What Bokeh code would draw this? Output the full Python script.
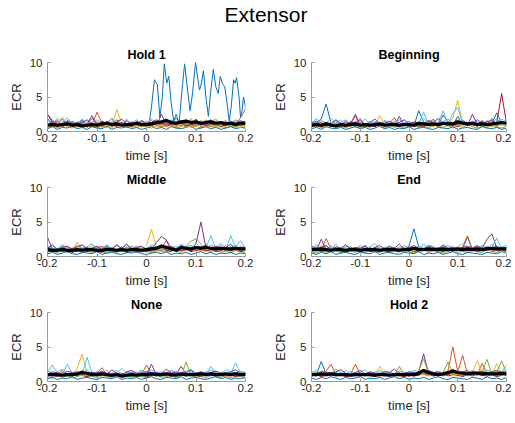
from bokeh.plotting import figure
from bokeh.layouts import column, row
from bokeh.models import FixedTicker
from bokeh.embed import file_html
from bokeh.resources import INLINE

# ---------------- data ----------------
SUPTITLE = "Extensor"
PANEL_TITLES = ["Hold 1", "Beginning", "Middle", "End", "None", "Hold 2"]
X_LABEL = "time [s]"
Y_LABEL = "ECR"
X_TICKS = [-0.2, -0.1, 0, 0.1, 0.2]
X_TICK_LABELS = ["-0.2", "-0.1", "0", "0.1", "0.2"]
Y_TICKS = [0, 5, 10]
Y_TICK_LABELS = ["0", "5", "10"]

TIME = [-0.20, -0.19, -0.18, -0.17, -0.16, -0.15, -0.14, -0.13, -0.12, -0.11,
        -0.10, -0.09, -0.08, -0.07, -0.06, -0.05, -0.04, -0.03, -0.02, -0.01,
        0.00, 0.01, 0.02, 0.03, 0.04, 0.05, 0.06, 0.07, 0.08, 0.09,
        0.10, 0.11, 0.12, 0.13, 0.14, 0.15, 0.16, 0.17, 0.18, 0.19, 0.20]

# Hold 1: the large blue trial (key points)
hold1_blue_t = [-0.20, -0.19, -0.18, -0.17, -0.16, -0.15, -0.14, -0.13, -0.12, -0.11,
                -0.10, -0.09, -0.08, -0.07, -0.06, -0.05, -0.04, -0.03, -0.02, -0.01,
                0.000, 0.005, 0.010, 0.016, 0.022, 0.027, 0.032, 0.036, 0.041, 0.045,
                0.050, 0.055, 0.060, 0.066, 0.071, 0.077, 0.083, 0.088, 0.093, 0.099,
                0.103, 0.107, 0.111, 0.115, 0.120, 0.125, 0.130, 0.135, 0.140, 0.145,
                0.149, 0.153, 0.158, 0.163, 0.167, 0.171, 0.176, 0.179, 0.182, 0.187,
                0.190, 0.193, 0.196, 0.200]
hold1_blue_v = [2.4, 1.6, 1.2, 1.8, 1.0, 1.4, 0.9, 1.6, 1.1, 1.9,
                1.2, 0.8, 1.5, 1.0, 1.7, 1.1, 0.9, 1.4, 1.0, 1.6,
                1.2, 1.0, 3.5, 7.5, 6.8, 2.0, 5.0, 9.8, 7.0, 8.0,
                4.0, 1.5, 2.5, 1.2, 5.5, 9.8, 6.0, 3.0, 5.5, 10.0,
                8.0, 6.0, 7.0, 8.8, 5.0, 2.2, 6.0, 9.0, 6.5, 5.5,
                8.0, 7.0, 6.5, 4.0, 1.5, 3.5, 7.5, 7.0, 7.8, 5.0,
                2.0, 3.0, 5.0, 3.5]
hold1_orange = [1.2,0.8,1.5,0.9,1.3,0.7,1.1,1.6,0.8,1.0, 2.8,1.2,0.7,1.4,0.9,1.1,0.6,1.3,1.0,0.8, 1.5,0.9,1.2,0.7,1.4,1.0,0.8,1.6,1.1,0.9, 1.3,0.7,1.0,1.5,0.8,1.2,0.9,1.4,1.1,2.0,3.3]
hold1_yellow = [0.7,1.4,1.0,2.1,0.8,1.2,0.6,1.0,1.5,0.9, 0.7,1.3,1.0,0.8,3.2,1.1,0.7,1.2,0.9,1.4, 0.8,1.0,1.6,0.9,0.7,1.2,1.5,0.8,1.0,1.9, 0.7,1.1,1.3,0.8,1.6,1.0,0.7,1.2,0.9,1.3,0.8]
hold1_purple = [1.9,1.0,0.6,1.2,1.5,0.8,1.3,0.9,1.1,2.3, 0.8,1.0,1.4,0.7,1.1,0.9,1.6,0.8,1.2,1.0, 0.9,1.3,0.8,2.5,1.1,0.9,1.4,1.0,0.7,1.2, 1.8,0.9,1.1,0.8,1.3,1.0,1.6,0.8,1.1,0.9,1.2]
hold1_green = [0.5,0.9,0.6,1.1,0.7,0.5,0.9,0.6,1.2,0.7, 0.5,0.8,0.6,1.0,0.7,1.3,0.5,0.8,0.6,0.9, 0.7,0.5,0.9,0.6,1.1,0.8,0.5,0.7,1.0,0.6, 0.8,0.5,0.9,0.7,0.6,1.0,0.5,0.8,0.6,0.9,0.7]
hold1_cyan = [1.0,1.7,0.9,1.3,2.0,1.1,0.8,1.4,1.0,1.2, 0.9,1.5,1.1,0.8,1.3,1.0,1.8,0.9,1.2,0.8, 1.4,1.1,0.9,1.2,0.8,1.7,1.0,1.3,0.9,1.1, 1.5,1.0,0.8,1.2,1.4,0.9,1.1,0.8,1.3,1.0,1.4]
hold1_red = [2.5,1.3,0.8,1.0,1.2,0.7,1.4,0.9,1.0,0.8, 1.1,0.7,1.2,0.9,0.8,1.3,1.0,0.7,1.5,0.9, 1.0,0.8,1.2,1.0,0.7,1.1,0.9,1.3,0.8,1.0, 0.9,1.4,0.8,1.0,1.2,0.7,1.0,1.3,0.9,1.1,1.0]
hold1_blue2 = [0.4,0.7,0.3,0.6,0.5,0.8,0.4,0.6,0.3,0.7, 0.5,0.4,0.8,0.3,0.6,0.5,0.7,0.4,0.6,0.3, 0.5,0.8,0.4,0.6,0.3,0.7,0.5,0.4,0.6,0.8, 0.3,0.5,0.7,0.4,0.6,0.3,0.5,0.7,0.4,0.6,0.5]
hold1_orange2 = [0.8,1.1,1.6,0.7,1.0,1.3,0.8,1.2,0.6,1.0, 1.4,0.8,1.1,1.9,0.7,1.0,1.2,0.8,1.1,0.7, 1.2,1.6,0.9,1.1,0.8,1.3,0.7,1.0,1.2,0.8, 1.1,0.9,1.7,1.0,0.8,1.2,0.9,1.0,1.5,0.8,1.1]
hold1_yellow2 = [0.6,0.9,0.5,0.8,1.1,0.6,0.9,0.5,0.8,0.7, 1.0,0.6,0.9,0.5,1.2,0.7,0.9,0.6,0.8,1.0, 0.6,0.8,0.5,1.0,0.7,0.6,0.9,1.1,0.6,0.8, 0.7,1.0,0.6,0.9,0.7,0.5,0.8,1.0,0.7,0.6,0.9]
hold1_cyan2 = [1.6,1.1,1.9,1.3,0.9,1.5,1.2,1.8,1.0,1.4, 1.7,1.1,1.3,1.9,1.2,1.0,1.5,1.3,1.7,1.1, 1.3,1.8,1.2,1.5,1.9,1.1,1.4,1.2,1.7,1.3, 1.0,1.6,1.2,1.4,1.8,1.1,1.5,1.2,1.7,1.3,1.5]
hold1_purple2 = [0.9,1.4,1.1,0.8,1.6,1.2,1.0,1.3,1.7,1.1, 0.9,1.5,1.2,1.0,1.4,1.8,1.1,1.3,0.9,1.5, 1.1,1.3,1.7,1.2,1.0,1.4,1.9,1.1,1.3,1.5, 1.2,1.0,1.4,1.7,1.1,1.3,0.9,1.5,1.2,1.6,1.1]
hold1_mean = [0.9,1.0,0.9,1.0,1.1,0.9,1.0,0.8,0.9,1.0, 0.9,1.1,1.2,1.0,1.1,0.9,1.0,1.0,1.2,1.0, 1.0,1.1,1.3,1.4,1.6,1.3,1.2,1.4,1.5,1.3, 1.4,1.2,1.3,1.4,1.2,1.3,1.1,1.2,1.0,1.2,1.2]

begin_blue = [1.0,1.3,1.8,4.0,1.2,0.8,1.1,0.9,1.4,0.7, 1.0,1.2,0.8,1.1,0.9,1.5,0.8,1.0,1.3,0.9, 1.1,0.8,3.0,1.4,0.9,1.2,1.0,2.4,1.3,0.9, 2.2,1.1,0.8,1.3,1.0,1.5,0.9,1.2,2.7,1.3,1.0]
begin_orange = [1.5,0.9,1.2,0.7,1.1,1.6,0.8,1.0,1.3,2.2, 0.9,1.1,0.7,1.4,1.0,0.8,1.2,2.0,0.9,1.1, 0.7,1.3,1.0,0.8,1.5,1.1,0.9,1.2,0.8,1.0, 1.7,1.2,0.9,1.1,0.8,1.3,1.0,1.9,0.9,1.1,1.4]
begin_yellow = [0.8,1.2,0.7,1.0,1.4,0.9,0.6,1.1,0.8,1.3, 1.0,0.7,1.2,0.9,2.3,1.0,0.8,1.1,0.7,1.2, 0.9,1.1,0.8,1.3,1.0,0.7,1.2,0.9,1.1,2.0, 4.5,1.3,0.9,1.1,0.8,1.2,1.0,0.7,1.1,0.9,1.0]
begin_purple = [1.2,0.8,1.0,1.3,0.7,1.1,0.9,1.5,1.0,2.5, 0.8,1.2,1.0,0.7,1.3,0.9,1.1,0.8,2.2,1.0, 0.9,1.2,0.7,1.1,1.4,0.9,1.0,1.2,0.8,1.1, 1.0,1.4,0.9,2.5,1.1,0.8,1.2,1.0,0.9,1.3,1.1]
begin_green = [0.6,0.9,0.5,0.8,1.0,0.6,0.8,0.5,0.9,0.7, 0.5,0.8,0.6,1.1,0.7,0.5,0.9,0.6,0.8,0.5, 0.7,0.9,0.6,0.8,0.5,1.0,0.7,0.6,0.9,0.5, 0.8,0.6,1.0,0.7,0.5,0.8,0.6,0.9,0.7,0.5,0.8]
begin_cyan = [1.1,1.9,1.0,1.3,0.8,1.2,1.7,0.9,1.1,1.3, 0.8,1.0,1.5,0.9,1.2,1.0,0.8,1.3,1.1,0.9, 1.4,1.0,1.2,2.8,1.0,0.9,1.3,3.0,1.1,2.6, 3.5,1.2,0.9,1.1,1.4,1.0,0.8,1.2,1.9,1.0,1.3]
begin_red = [0.9,1.1,0.7,1.0,0.8,1.2,0.9,0.7,1.1,0.8, 1.3,0.9,1.0,0.7,1.1,0.8,1.2,0.9,0.7,1.0, 0.8,1.1,0.9,0.7,1.2,1.0,0.8,1.1,0.9,1.0, 0.7,1.2,0.9,1.0,0.8,1.1,0.9,1.0,1.3,5.5,1.2]
begin_blue2 = [0.4,0.6,0.3,0.7,0.5,0.4,0.6,0.3,0.5,0.7, 0.4,0.6,0.3,0.5,0.8,0.4,0.6,0.3,0.5,0.4, 0.7,0.3,0.5,0.6,0.4,0.3,0.6,0.5,0.4,0.7, 0.3,0.5,0.6,0.4,0.3,0.7,0.5,0.4,0.6,0.3,0.5]
begin_orange2 = [0.7,1.0,1.4,0.8,1.2,0.6,1.0,1.3,0.7,1.1, 1.9,0.8,1.0,1.3,0.7,1.1,0.9,1.5,0.8,1.0, 1.2,0.7,1.1,0.9,1.3,1.8,0.8,1.0,1.2,0.7, 1.1,0.9,1.3,0.8,1.0,1.6,0.9,1.1,0.8,1.2,0.9]
begin_yellow2 = [1.3,0.7,1.0,1.2,0.8,1.1,0.7,1.0,0.9,1.2, 0.7,1.1,0.9,1.3,0.8,1.0,1.2,0.7,1.1,0.9, 1.0,0.8,1.2,0.9,1.1,0.7,1.0,1.3,0.8,1.1, 0.9,1.0,1.2,0.8,1.1,0.9,1.3,0.8,1.0,1.2,0.9]
begin_cyan2 = [1.4,1.0,1.6,1.2,1.9,1.1,1.3,1.7,1.0,1.5, 1.2,1.8,1.1,1.4,1.0,1.6,1.3,1.1,1.7,1.2, 1.5,1.1,1.3,1.9,1.2,1.6,1.0,1.4,1.8,1.2, 1.3,1.7,1.1,1.5,1.2,1.0,1.6,1.3,1.2,1.8,1.4]
begin_purple2 = [1.1,1.5,0.9,1.3,1.1,1.7,1.2,1.0,1.4,1.2, 1.6,1.0,1.3,1.8,1.1,1.2,1.5,1.0,1.3,1.7, 1.1,1.4,1.2,1.0,1.6,1.3,1.9,1.1,1.4,1.2, 1.0,1.5,1.3,1.1,1.7,1.2,1.4,1.6,1.1,1.3,1.2]
begin_mean = [0.9,1.0,0.9,1.1,0.9,0.8,1.0,0.9,1.0,1.1, 0.9,1.0,0.9,1.0,1.1,0.9,1.0,1.0,0.9,1.0, 1.0,0.9,1.2,1.1,1.0,1.1,1.0,1.2,1.1,1.1, 1.4,1.2,1.1,1.2,1.0,1.1,1.0,1.1,1.2,1.3,1.2]

middle_blue = [0.8,1.2,0.9,1.3,0.7,1.0,1.1,0.8,1.2,0.9, 0.7,1.1,0.9,1.3,0.8,1.0,0.7,1.2,0.9,1.1, 0.8,1.0,1.3,0.9,1.1,0.8,1.2,1.0,0.9,1.4, 1.0,0.8,1.2,1.1,0.9,1.3,1.0,0.8,1.2,0.9,1.0]
middle_orange = [1.3,0.9,1.1,1.6,0.8,1.2,0.9,1.0,1.4,0.8, 1.1,0.9,1.7,1.0,0.8,1.2,1.0,1.5,0.9,1.1, 0.8,1.3,1.0,1.2,2.3,1.0,0.9,1.3,1.1,0.8, 1.2,1.0,1.4,0.9,1.2,1.0,1.6,0.9,1.1,1.3,1.0]
middle_yellow = [1.0,0.7,1.2,0.9,1.1,0.8,2.1,0.9,1.0,1.3, 0.8,1.1,0.9,1.0,0.7,1.2,0.9,1.1,1.4,1.0, 1.6,4.0,1.3,1.1,0.9,1.2,1.0,1.4,0.9,1.1, 1.3,1.0,0.8,1.2,1.0,1.1,0.9,1.3,1.0,1.2,1.5]
middle_purple = [2.8,1.0,0.8,1.2,0.9,1.1,0.7,1.0,1.3,0.8, 1.1,0.9,1.2,0.8,1.0,1.4,0.9,1.1,0.8,1.0, 1.2,0.9,2.0,2.9,2.4,1.1,0.9,1.2,1.0,0.8, 1.9,5.0,1.3,1.0,1.2,0.9,1.1,1.0,1.3,0.9,1.1]
middle_green = [0.6,0.9,0.5,1.0,0.7,0.6,0.9,0.5,0.8,0.6, 1.0,0.7,0.5,0.8,0.6,0.9,0.5,0.7,1.0,0.6, 0.8,0.5,0.9,0.7,0.6,1.0,0.8,0.6,1.5,2.2, 2.6,1.8,0.9,0.7,1.0,0.6,0.8,0.5,0.9,0.7,0.6]
middle_cyan = [1.1,1.8,1.0,1.4,0.9,1.2,1.0,1.6,0.9,1.1, 1.3,0.9,1.5,1.0,0.8,1.2,1.7,1.0,1.1,0.9, 1.2,1.4,1.0,1.3,0.9,1.1,1.5,1.0,1.2,0.9, 2.0,1.1,1.3,3.0,1.2,1.6,1.0,3.0,1.4,2.3,1.1]
middle_red = [0.9,0.7,1.1,0.8,1.0,0.6,0.9,1.2,0.7,1.0, 0.8,0.6,1.0,0.9,0.7,1.1,0.8,1.0,0.6,0.9, 0.7,1.0,0.8,1.1,0.9,0.7,1.2,0.8,1.0,0.7, 0.9,1.1,0.8,1.0,0.7,0.9,1.2,0.8,1.0,0.7,0.9]
middle_blue2 = [0.4,0.6,0.3,0.5,0.7,0.4,0.3,0.6,0.5,0.4, 0.7,0.3,0.5,0.6,0.4,0.3,0.6,0.5,0.7,0.4, 0.3,0.5,0.6,0.4,0.7,0.3,0.5,0.4,0.6,0.3, 0.5,0.7,0.4,0.6,0.3,0.5,0.4,0.6,0.3,0.5,0.4]
middle_orange2 = [0.7,1.1,0.8,1.0,1.3,0.7,1.2,0.9,1.0,0.8, 1.2,1.5,0.8,1.1,0.9,1.0,1.3,0.8,1.1,0.9, 1.0,0.7,1.2,0.9,1.1,1.3,0.8,1.1,0.9,1.2, 0.8,1.0,1.4,0.9,1.1,0.8,1.2,1.0,0.9,1.1,1.3]
middle_yellow2 = [1.2,0.8,1.0,0.7,1.1,0.9,1.3,0.8,1.0,1.7, 0.9,1.1,0.8,1.2,1.0,0.7,1.1,0.9,1.0,1.2, 0.8,1.1,0.9,1.0,1.2,0.8,1.0,1.3,0.9,1.0, 1.1,0.8,1.2,0.9,1.0,1.3,0.8,1.1,0.9,1.0,0.8]
middle_cyan2 = [1.5,1.2,1.0,1.7,1.3,1.1,1.6,1.2,1.4,1.9, 1.1,1.3,1.6,1.2,1.8,1.0,1.4,1.2,1.5,1.3, 1.1,1.7,1.4,1.2,1.6,1.3,1.0,1.8,1.4,1.6, 1.2,1.5,1.1,1.7,1.3,1.9,1.2,1.4,1.6,1.1,1.3]
middle_purple2 = [1.2,1.6,1.0,1.3,1.5,1.1,1.4,1.7,1.1,1.2, 1.5,1.0,1.3,1.1,1.6,1.2,1.8,1.1,1.3,1.5, 1.0,1.4,1.2,1.7,1.3,1.5,1.1,1.6,1.2,1.0, 1.4,1.3,1.7,1.1,1.5,1.2,1.3,1.8,1.1,1.4,1.2]
middle_mean = [1.0,0.9,0.9,1.0,0.9,0.9,1.0,0.9,1.0,1.0, 0.9,0.9,1.0,1.0,0.9,1.0,0.9,1.0,1.0,0.9, 1.0,1.1,1.2,1.5,1.3,1.1,0.9,1.3,1.2,1.1, 1.3,1.2,1.3,1.2,1.1,1.2,1.1,1.1,1.2,1.1,1.1]

end_blue = [1.0,1.3,0.8,1.1,0.9,1.2,0.7,1.0,1.4,0.9, 1.1,0.8,1.2,1.0,0.7,1.1,0.9,1.3,0.8,1.0, 1.5,4.0,1.4,1.0,1.2,0.9,1.1,0.8,1.0,1.3, 0.9,1.2,2.8,1.0,1.3,0.9,1.1,0.8,1.2,1.0,1.1]
end_orange = [1.2,0.8,1.0,2.6,1.1,0.9,1.3,0.8,1.0,1.2, 0.7,1.1,0.9,1.4,1.0,0.8,1.2,0.9,1.1,1.0, 0.8,1.2,1.0,0.9,1.3,1.1,0.8,1.0,1.2,0.9, 1.1,1.4,3.0,1.0,1.2,0.9,1.1,1.3,0.9,1.0,1.2]
end_yellow = [0.9,1.1,1.5,0.8,1.0,1.2,0.9,1.1,0.7,1.0, 1.3,0.9,1.1,0.8,1.2,1.0,1.6,0.9,1.0,0.8, 1.1,0.9,1.2,1.0,0.8,1.3,1.0,0.9,1.1,0.8, 1.2,1.0,0.9,1.3,1.0,1.1,0.8,1.2,1.0,0.9,1.1]
end_purple = [1.1,0.9,2.5,1.0,0.8,1.2,1.0,0.9,1.3,0.8, 1.0,1.2,0.9,1.1,0.8,1.3,1.0,0.9,1.1,1.0, 0.8,1.2,1.0,1.1,0.9,1.0,1.3,0.8,1.1,0.9, 1.2,1.0,0.9,1.1,1.4,1.2,2.5,3.3,1.2,1.0,1.3]
end_green = [0.7,0.5,0.9,0.6,0.8,1.0,0.5,0.7,0.9,0.6, 0.8,0.5,1.0,0.7,0.6,0.9,0.5,0.8,0.6,1.1, 0.7,0.5,0.8,1.0,0.6,0.9,0.7,0.5,0.8,1.0, 0.6,0.8,0.5,0.9,0.7,0.6,1.0,0.8,0.6,0.9,0.7]
end_cyan = [1.3,1.0,1.2,0.9,1.6,1.0,1.2,0.8,1.1,1.3, 1.0,1.7,0.9,1.1,1.3,0.9,1.2,1.0,1.4,0.9, 1.1,1.3,1.0,1.8,1.2,0.9,1.1,1.5,1.0,1.2, 0.9,1.1,1.3,1.0,1.2,1.6,1.0,1.3,2.7,1.1,1.4]
end_red = [0.8,1.0,0.7,0.9,1.1,0.8,1.0,0.6,0.9,1.1, 0.8,1.0,0.7,0.9,1.1,0.8,0.7,1.0,0.9,0.8, 1.0,0.7,0.9,1.1,0.8,1.0,0.9,0.7,1.0,0.8, 1.1,0.9,0.8,1.0,0.7,0.9,1.1,0.8,1.0,0.9,0.8]
end_blue2 = [0.5,0.3,0.6,0.4,0.7,0.3,0.5,0.6,0.4,0.3, 0.6,0.5,0.4,0.7,0.3,0.5,0.6,0.4,0.3,0.6, 0.5,0.4,0.7,0.3,0.5,0.4,0.6,0.3,0.5,0.7, 0.4,0.3,0.6,0.5,0.4,0.3,0.6,0.5,0.4,0.7,0.5]
end_orange2 = [1.0,1.4,0.8,1.1,0.9,1.3,0.7,1.0,1.2,0.9, 1.1,0.8,1.3,1.0,0.9,1.2,0.8,1.1,1.0,1.3, 0.9,1.1,0.8,1.2,1.0,0.9,1.3,1.1,0.8,1.0, 1.2,0.9,1.1,1.0,0.8,1.2,1.0,0.9,1.1,1.3,1.0]
end_yellow2 = [0.8,1.0,1.2,0.7,1.0,0.8,1.1,1.3,0.9,1.0, 0.8,1.2,0.9,1.0,1.1,0.8,1.0,1.2,0.9,1.1, 1.0,0.8,1.1,0.9,1.0,1.2,0.8,1.0,0.9,1.1, 0.8,1.0,1.2,0.9,1.1,0.8,1.0,0.9,1.2,0.8,1.0]
end_cyan2 = [1.2,1.7,1.1,1.4,1.2,1.8,1.0,1.5,1.3,1.1, 1.6,1.2,1.4,1.9,1.1,1.3,1.5,1.2,1.0,1.6, 1.3,1.1,1.5,1.2,1.7,1.4,1.1,1.3,1.6,1.2, 1.4,1.9,1.2,1.3,1.1,1.5,1.3,1.7,1.2,1.4,1.6]
end_purple2 = [1.5,1.1,1.3,1.6,1.0,1.4,1.2,1.7,1.1,1.3, 1.2,1.5,1.0,1.3,1.6,1.1,1.4,1.2,1.8,1.1, 1.3,1.6,1.2,1.0,1.5,1.3,1.1,1.7,1.2,1.4, 1.0,1.3,1.5,1.2,1.6,1.1,1.4,1.2,1.5,1.1,1.3]
end_mean = [1.0,1.0,1.1,1.0,0.9,1.0,1.0,0.9,1.0,1.0, 0.9,1.0,1.0,1.0,0.9,1.0,1.0,1.0,0.9,1.0, 1.0,1.2,1.0,1.0,1.1,1.0,1.0,1.1,1.0,1.0, 1.1,1.0,1.1,1.0,1.1,1.0,1.1,1.2,1.1,1.1,1.1]

none_blue = [1.1,0.8,1.3,0.9,1.0,1.2,0.8,1.1,0.9,1.3, 0.8,1.0,1.2,0.9,1.1,0.7,1.0,1.2,0.9,1.1, 1.3,1.0,0.8,1.2,1.0,0.9,1.3,1.1,0.8,1.0, 1.2,0.9,1.1,1.0,0.8,1.2,1.0,1.1,1.3,0.9,1.0]
none_orange = [0.9,1.2,1.0,1.6,0.8,1.1,0.9,1.3,1.0,0.8, 1.2,2.0,1.0,0.9,1.2,0.8,1.1,1.3,0.9,1.0, 2.4,1.1,0.9,1.2,1.0,1.6,0.9,1.1,1.3,0.9, 1.0,1.2,0.8,1.1,1.5,0.9,1.2,1.0,0.9,1.3,1.1]
none_yellow = [1.0,0.8,1.2,0.9,1.1,0.7,1.9,4.0,1.2,0.9, 1.1,0.8,1.0,1.2,0.9,1.1,0.8,1.0,1.3,0.9, 1.1,1.0,0.8,1.2,1.0,1.1,0.9,1.3,1.0,0.8, 1.1,1.0,1.2,0.9,1.1,1.0,0.8,1.2,1.0,0.9,1.1]
none_purple = [1.2,1.0,0.9,1.3,1.0,0.8,1.1,0.9,1.2,1.0, 1.4,0.9,1.1,0.8,1.0,1.2,0.9,1.1,1.0,1.3, 0.9,2.5,1.0,1.2,0.9,1.1,1.0,2.2,1.1,0.9, 1.2,1.0,1.4,0.9,1.1,1.0,1.3,0.9,1.1,1.0,1.2]
none_green = [0.7,0.5,0.9,0.6,0.8,0.5,0.7,1.0,0.6,0.8, 0.5,0.9,0.7,0.6,1.0,0.5,0.8,0.6,0.9,0.7, 0.5,0.8,1.0,0.6,0.7,0.9,0.5,0.8,2.8,0.9, 0.6,0.8,0.5,1.0,0.7,0.6,0.9,0.5,0.8,0.7,0.6]
none_cyan = [1.3,2.4,1.2,1.0,2.5,1.1,1.4,1.0,3.5,1.2, 1.0,1.3,0.9,1.2,1.6,1.0,1.3,0.9,1.2,1.7, 1.0,1.2,1.4,1.0,1.3,1.1,0.9,1.2,1.0,1.4, 1.1,1.3,1.0,2.2,1.2,1.0,1.3,1.1,2.7,1.2,1.0]
none_red = [0.8,1.0,0.7,0.9,1.1,0.8,1.0,0.9,0.7,1.0, 0.8,1.1,0.9,0.7,1.0,0.8,0.9,1.1,0.8,1.0, 0.7,0.9,1.1,0.8,1.0,0.7,1.2,0.9,0.8,1.0, 0.9,0.7,1.0,0.8,1.1,0.9,0.8,1.0,0.7,0.9,1.0]
none_blue2 = [0.4,0.6,0.3,0.5,0.4,0.7,0.3,0.5,0.6,0.4, 0.3,0.6,0.5,0.4,0.7,0.3,0.5,0.4,0.6,0.3, 0.5,0.7,0.4,0.3,0.6,0.5,0.4,0.7,0.3,0.5, 0.6,0.4,0.3,0.5,0.7,0.4,0.6,0.3,0.5,0.4,0.6]
none_orange2 = [1.1,0.8,1.3,1.0,0.9,1.2,0.8,1.1,1.0,1.4, 0.9,1.1,0.8,1.2,1.0,0.9,1.3,1.0,0.8,1.1, 1.2,0.9,1.1,1.0,1.3,0.8,1.0,1.2,0.9,1.1, 1.0,0.8,1.2,1.0,0.9,1.3,1.0,0.8,1.1,1.2,0.9]
none_yellow2 = [0.9,1.1,0.8,1.0,1.2,0.9,1.0,0.8,1.1,0.9, 1.2,1.0,0.8,1.1,0.9,1.0,1.2,0.8,1.0,0.9, 1.1,0.8,1.0,1.2,0.9,1.0,0.8,1.1,1.0,0.9, 1.2,0.8,1.0,0.9,1.1,1.0,0.8,1.2,0.9,1.0,1.1]
none_cyan2 = [1.6,1.2,1.4,1.8,1.1,1.3,1.5,1.2,1.7,1.1, 1.4,1.2,1.6,1.0,1.3,1.9,1.2,1.4,1.1,1.5, 1.3,1.7,1.2,1.4,1.1,1.6,1.3,1.2,1.5,1.8, 1.1,1.4,1.2,1.6,1.3,1.1,1.7,1.4,1.2,1.5,1.3]
none_purple2 = [1.1,1.4,1.2,1.0,1.5,1.3,1.1,1.6,1.0,1.3, 1.2,1.5,1.1,1.7,1.2,1.0,1.4,1.6,1.2,1.1, 1.5,1.2,1.3,1.1,1.8,1.2,1.4,1.0,1.3,1.6, 1.2,1.4,1.1,1.3,1.5,1.2,1.0,1.4,1.7,1.1,1.3]
none_mean = [1.0,1.0,1.0,0.9,1.0,1.0,1.1,1.3,1.2,1.0, 1.0,1.1,1.0,0.9,1.0,0.8,0.9,1.0,0.9,1.0, 1.0,1.1,1.0,1.0,1.1,1.0,0.9,1.1,1.0,1.0, 1.0,1.1,1.0,1.1,1.0,1.0,1.1,1.0,1.1,1.0,1.0]

hold2_blue = [1.2,1.0,2.9,1.1,0.9,1.3,1.0,0.8,1.2,1.0, 0.9,1.1,1.4,0.9,1.0,1.2,0.8,1.1,1.0,1.3, 0.9,1.1,1.0,1.2,1.4,1.0,0.9,1.1,1.3,1.0, 1.2,0.9,1.1,1.0,1.3,0.9,1.1,1.0,1.2,1.4,1.5]
hold2_orange = [1.0,1.3,0.9,1.5,2.5,1.0,1.2,0.9,1.1,2.5, 1.0,0.8,1.2,1.0,0.9,1.3,1.1,0.9,1.2,1.0, 0.8,1.1,1.3,1.0,1.2,0.9,1.1,1.0,1.6,5.0, 1.4,3.8,1.1,1.3,1.0,2.6,1.2,1.0,1.3,1.1,0.9]
hold2_yellow = [0.9,1.1,1.3,0.8,1.0,1.2,0.9,1.1,1.0,0.8, 1.2,0.9,1.1,1.0,2.2,0.9,1.1,0.8,1.0,1.2, 0.9,1.1,1.0,1.3,0.9,1.1,1.2,0.9,1.0,1.3, 1.1,1.0,1.4,1.2,3.0,1.1,1.3,1.0,2.6,1.2,1.1]
hold2_purple = [1.1,0.9,1.2,1.0,1.3,0.9,1.1,1.0,0.8,1.2, 1.0,1.1,0.9,1.3,1.0,0.8,1.1,1.0,1.2,0.9, 1.1,1.0,1.5,4.0,1.2,1.0,0.9,1.2,1.0,1.1, 0.9,1.2,1.0,1.1,0.9,1.2,1.0,1.3,1.1,1.0,1.2]
hold2_green = [1.0,1.4,0.8,1.1,0.9,1.2,1.0,0.8,1.1,1.3, 0.9,1.0,1.2,0.8,1.1,1.0,1.3,0.9,2.2,1.0, 1.1,0.9,1.6,3.3,1.2,1.0,1.1,1.3,2.8,1.2, 1.0,1.3,1.1,1.5,1.2,1.4,3.2,1.1,1.3,3.0,1.2]
hold2_cyan = [1.4,1.0,1.2,0.9,1.1,1.3,1.0,1.6,1.1,0.9, 1.2,1.0,0.8,1.1,1.3,1.0,1.2,0.9,1.1,1.0, 1.3,1.1,0.9,1.2,1.0,1.4,0.9,1.1,1.3,1.0, 1.2,0.9,1.0,1.2,1.4,1.1,0.9,1.2,1.0,1.3,2.4]
hold2_red = [0.8,1.0,0.7,0.9,1.1,0.8,1.0,0.7,0.9,1.0, 0.8,1.1,0.9,0.7,1.0,0.9,0.8,1.1,0.9,0.7, 1.0,0.8,0.9,1.2,1.0,0.8,0.9,1.1,0.8,1.0, 0.9,0.7,1.0,0.8,1.1,0.9,0.8,1.0,0.7,0.9,1.0]
hold2_blue2 = [0.5,0.3,0.6,0.4,0.7,0.5,0.3,0.6,0.4,0.5, 0.7,0.3,0.5,0.4,0.6,0.3,0.5,0.7,0.4,0.6, 0.3,0.5,0.4,0.6,0.3,0.5,0.7,0.4,0.3,0.6, 0.5,0.4,0.3,0.6,0.5,0.3,0.7,0.4,0.5,0.3,0.6]
hold2_orange2 = [1.0,0.8,1.1,1.3,0.9,1.0,1.2,0.8,1.1,1.0, 1.3,0.9,1.0,1.2,0.8,1.1,1.0,0.9,1.3,1.0, 0.8,1.2,1.0,1.1,0.9,1.3,1.0,0.8,1.2,1.0, 1.1,0.9,1.3,1.0,1.2,0.9,1.1,1.0,0.8,1.2,1.0]
hold2_yellow2 = [0.9,1.2,1.0,0.8,1.1,0.9,1.3,1.0,0.9,1.1, 0.8,1.2,1.0,0.9,1.1,1.0,0.8,1.2,0.9,1.1, 1.0,0.9,1.2,1.0,0.8,1.1,0.9,1.0,1.2,0.9, 1.0,1.2,0.8,1.1,0.9,1.0,1.2,0.9,1.1,1.0,0.8]
hold2_cyan2 = [1.3,1.6,1.1,1.4,1.2,1.8,1.3,1.0,1.5,1.2, 1.4,1.7,1.1,1.3,1.6,1.2,1.4,1.1,1.5,1.3, 1.2,1.6,1.4,1.1,1.7,1.3,1.5,1.2,1.4,1.8, 1.1,1.5,1.3,1.6,1.2,1.4,1.7,1.3,1.5,1.2,1.6]
hold2_purple2 = [1.2,1.0,1.5,1.3,1.1,1.4,1.7,1.2,1.0,1.3, 1.6,1.1,1.4,1.2,1.0,1.5,1.3,1.8,1.1,1.2, 1.4,1.3,1.1,1.6,1.5,1.2,1.4,1.0,1.3,1.7, 1.2,1.4,1.6,1.1,1.3,1.5,1.2,1.4,1.6,1.3,1.1]
hold2_mean = [1.0,1.0,1.1,1.0,1.1,1.0,1.0,1.0,0.9,1.0, 1.0,1.0,1.0,0.9,1.0,1.0,0.9,1.0,1.0,1.0, 1.0,1.0,1.2,1.6,1.3,1.1,1.0,1.1,1.3,1.5, 1.3,1.2,1.1,1.2,1.2,1.1,1.2,1.1,1.1,1.2,1.1]

# ---------------- styles ----------------
BLUE, ORANGE, YELLOW, PURPLE = "#0072BD", "#D95319", "#EDB120", "#7E2F8E"
GREEN, CYAN, RED = "#77AC30", "#4DBEEE", "#A2142F"
FONT = "Liberation Sans"
TXT = "#262626"
AX = "#9a9a9a"


def std_traces(b, o, y, p, g, c, r, b2, o2, y2, c2, p2):
    return [(TIME, b, BLUE), (TIME, o, ORANGE), (TIME, y, YELLOW), (TIME, p, PURPLE),
            (TIME, g, GREEN), (TIME, c, CYAN), (TIME, r, RED), (TIME, b2, BLUE),
            (TIME, o2, ORANGE), (TIME, y2, YELLOW), (TIME, c2, CYAN), (TIME, p2, PURPLE)]


hold1_traces = [(hold1_blue_t, hold1_blue_v, BLUE)] + std_traces(
    hold1_blue2, hold1_orange, hold1_yellow, hold1_purple, hold1_green, hold1_cyan,
    hold1_red, hold1_blue2, hold1_orange2, hold1_yellow2, hold1_cyan2, hold1_purple2)[1:]

panels = [
    (PANEL_TITLES[0], hold1_traces, hold1_mean),
    (PANEL_TITLES[1], std_traces(begin_blue, begin_orange, begin_yellow, begin_purple, begin_green,
                                 begin_cyan, begin_red, begin_blue2, begin_orange2, begin_yellow2,
                                 begin_cyan2, begin_purple2), begin_mean),
    (PANEL_TITLES[2], std_traces(middle_blue, middle_orange, middle_yellow, middle_purple, middle_green,
                                 middle_cyan, middle_red, middle_blue2, middle_orange2, middle_yellow2,
                                 middle_cyan2, middle_purple2), middle_mean),
    (PANEL_TITLES[3], std_traces(end_blue, end_orange, end_yellow, end_purple, end_green,
                                 end_cyan, end_red, end_blue2, end_orange2, end_yellow2,
                                 end_cyan2, end_purple2), end_mean),
    (PANEL_TITLES[4], std_traces(none_blue, none_orange, none_yellow, none_purple, none_green,
                                 none_cyan, none_red, none_blue2, none_orange2, none_yellow2,
                                 none_cyan2, none_purple2), none_mean),
    (PANEL_TITLES[5], std_traces(hold2_blue, hold2_orange, hold2_yellow, hold2_purple, hold2_green,
                                 hold2_cyan, hold2_red, hold2_blue2, hold2_orange2, hold2_yellow2,
                                 hold2_cyan2, hold2_purple2), hold2_mean),
]


def make_panel(title, traces, mean_vals, right_col):
    b_left = 39 if right_col else 47
    b_right = 5 if right_col else 24
    b_top, b_bottom = 18, 38
    frame_w, frame_h = 198, 69
    p = figure(width=b_left + frame_w + b_right, height=b_top + frame_h + b_bottom,
               x_range=(-0.2, 0.2), y_range=(0, 10),
               output_backend="svg", toolbar_location=None,
               min_border_left=b_left, min_border_right=b_right,
               min_border_top=b_top, min_border_bottom=b_bottom)
    p.outline_line_color = None
    p.grid.visible = False
    p.background_fill_color = "white"
    p.border_fill_color = "white"
    p.title.text = title
    p.title.align = "center"
    p.title.text_font = FONT
    p.title.text_font_size = "12.5px"
    p.title.text_font_style = "bold"
    p.title.text_color = "black"
    p.title.standoff = 1

    for xs, ys, col in traces:
        p.line(x=xs, y=ys, line_color=col, line_width=1)
    p.line(x=TIME, y=mean_vals, line_color="black", line_width=3.2)

    p.xaxis.ticker = FixedTicker(ticks=X_TICKS)
    p.xaxis.major_label_overrides = dict(zip(X_TICKS, X_TICK_LABELS))
    p.yaxis.ticker = FixedTicker(ticks=Y_TICKS)
    p.yaxis.major_label_overrides = dict(zip(Y_TICKS, Y_TICK_LABELS))
    p.xaxis.axis_label = X_LABEL
    p.yaxis.axis_label = Y_LABEL
    for ax in (p.xaxis[0], p.yaxis[0]):
        ax.axis_line_color = AX
        ax.axis_line_width = 1
        ax.major_tick_line_color = AX
        ax.major_tick_in = 3
        ax.major_tick_out = 0
        ax.minor_tick_in = 0
        ax.minor_tick_out = 0
        ax.major_label_text_font = FONT
        ax.major_label_text_font_size = "11.5px"
        ax.major_label_text_color = TXT
        ax.axis_label_text_font = FONT
        ax.axis_label_text_font_size = "13px"
        ax.axis_label_text_font_style = "normal"
        ax.axis_label_text_color = TXT
    p.xaxis.major_label_standoff = 2
    p.xaxis.axis_label_standoff = 3
    p.yaxis.major_label_standoff = 5
    p.yaxis.axis_label_standoff = 3
    return p


figs = []
for i, (title, traces, mean_vals) in enumerate(panels):
    figs.append(make_panel(title, traces, mean_vals, right_col=(i % 2 == 1)))

head = figure(width=515, height=44, x_range=(0, 1), y_range=(0, 1),
              output_backend="svg", toolbar_location=None,
              min_border_left=16, min_border_right=0, min_border_top=0, min_border_bottom=0)
head.axis.visible = False
head.grid.visible = False
head.outline_line_color = None
head.title.text = SUPTITLE
head.title.align = "center"
head.title.text_font = FONT
head.title.text_font_size = "21px"
head.title.text_font_style = "normal"
head.title.text_color = "black"
head.title.standoff = 0

layout = column(head, row(figs[0], figs[1]), row(figs[2], figs[3]), row(figs[4], figs[5]))

open("out.html", "w").write(file_html(layout, INLINE))
